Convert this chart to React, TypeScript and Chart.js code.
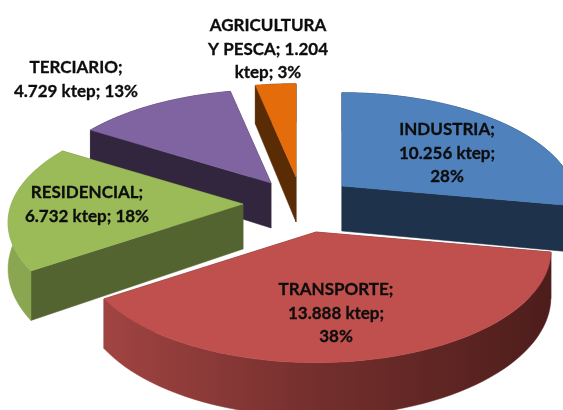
import React, { useEffect, useRef } from "react";
import { Chart, registerables } from "chart.js";

Chart.register(...registerables);

const categories = ["INDUSTRIA", "TRANSPORTE", "RESIDENCIAL", "TERCIARIO", "AGRICULTURA Y PESCA"];
const values = [10256, 13888, 6732, 4729, 1204];
const labelLines = [
  ["INDUSTRIA;", "10.256 ktep;", "28%"],
  ["TRANSPORTE;", "13.888 ktep;", "38%"],
  ["RESIDENCIAL;", "6.732 ktep; 18%"],
  ["TERCIARIO;", "4.729 ktep; 13%"],
  ["AGRICULTURA", "Y PESCA; 1.204", "ktep; 3%"],
];
const topColors = ["#4F81BD", "#C0504D", "#9BBB59", "#8064A2", "#E46C0A"];
const faceColors = ["#1F324B", "#4D1E1C", "#536430", "#32263F", "#5A2C05"];
const wallStops = [
  ["#1F324B", "#1F324B"],
  ["#A04442", "#722E2C", "#4D1D1B"],
  ["#8AA650", "#8AA650"],
  ["#32263F", "#32263F"],
  ["#5A2C05", "#5A2C05"],
];

const apexes = [[342, 186], [316, 232], [243, 204], [271, 183], [296, 177]];
const labelPos = [[447, 130], [336, 290], [87, 193], [76, 68], [268, 26]];
const drawOrder = [4, 3, 0, 2, 1];
const radiusFactor = 1.13;
const flatten = 0.47;
const focal = 6;
const depth = 45;
const lineGap = 23.5;

const pie3d = {
  id: "pie3d",
  beforeDatasetDraw(chart: any) {
    const ctx = chart.ctx as CanvasRenderingContext2D;
    const arcs = chart.getDatasetMeta(0).data;
    for (const i of drawOrder) {
      const el = arcs[i];
      const R = el.outerRadius * radiusFactor;
      const a0 = el.startAngle + Math.PI / 2;
      const a1 = el.endAngle + Math.PI / 2;
      const [ax, ay] = apexes[i];
      const proj = (a: number, r: number, z: number) => {
        const u = r * Math.sin(a);
        const v = r * Math.cos(a);
        const s = focal * R / (focal * R + v);
        return [ax + u * s, ay - flatten * v * s + z * s];
      };
      const rim = (z: number, rev = false) => {
        const pts: number[][] = [];
        const n = 60;
        for (let k = 0; k <= n; k++) {
          const t = rev ? 1 - k / n : k / n;
          pts.push(proj(a0 + (a1 - a0) * t, R, z));
        }
        return pts;
      };
      const fillPoly = (pts: number[][], fill: any) => {
        ctx.beginPath();
        pts.forEach((p, k) => (k ? ctx.lineTo(p[0], p[1]) : ctx.moveTo(p[0], p[1])));
        ctx.closePath();
        ctx.fillStyle = fill;
        ctx.fill();
        ctx.strokeStyle = fill;
        ctx.lineWidth = 0.5;
        ctx.stroke();
      };
      const apexTop = [ax, ay];
      const apexBottom = proj(0, 0, depth);
      // cut faces
      fillPoly([apexTop, proj(a0, R, 0), proj(a0, R, depth), apexBottom], faceColors[i]);
      fillPoly([apexTop, proj(a1, R, 0), proj(a1, R, depth), apexBottom], faceColors[i]);
      // outer wall
      const top = rim(0);
      const bottom = rim(depth, true);
      const xs = top.map((p) => p[0]);
      const g = ctx.createLinearGradient(Math.min(...xs), 0, Math.max(...xs), 0);
      const stops = wallStops[i];
      stops.forEach((c, k) => g.addColorStop(k / (stops.length - 1), c));
      fillPoly([...top, ...bottom], g);
      // top face
      fillPoly([apexTop, ...top], topColors[i]);
    }
    ctx.save();
    ctx.fillStyle = "#0d0d0d";
    ctx.strokeStyle = "#0d0d0d";
    ctx.lineWidth = 0.3;
    ctx.font = "bold 17px Lato, Carlito, sans-serif";
    ctx.textAlign = "center";
    ctx.textBaseline = "middle";
    labelLines.forEach((lines, i) => {
      lines.forEach((line, k) => {
        ctx.fillText(line, labelPos[i][0], labelPos[i][1] + k * lineGap);
        ctx.strokeText(line, labelPos[i][0], labelPos[i][1] + k * lineGap);
      });
    });
    ctx.restore();
    return false;
  },
};

export default function App() {
  const ref = useRef<HTMLCanvasElement>(null);
  useEffect(() => {
    document.body.style.margin = "0";
    document.body.style.background = "#fff";
    const chart = new Chart(ref.current!, {
      type: "pie",
      data: {
        labels: categories,
        datasets: [{ data: values, backgroundColor: topColors, borderWidth: 0 }],
      },
      options: {
        responsive: false,
        animation: false,
        plugins: { legend: { display: false }, tooltip: { enabled: false } },
      },
      plugins: [pie3d],
    } as any);
    return () => chart.destroy();
  }, []);
  return (
    <div style={{ width: 563, height: 410, overflow: "hidden" }}>
      <canvas ref={ref} width={563} height={410} style={{ display: "block", filter: "blur(0.4px)" }} />
    </div>
  );
}
